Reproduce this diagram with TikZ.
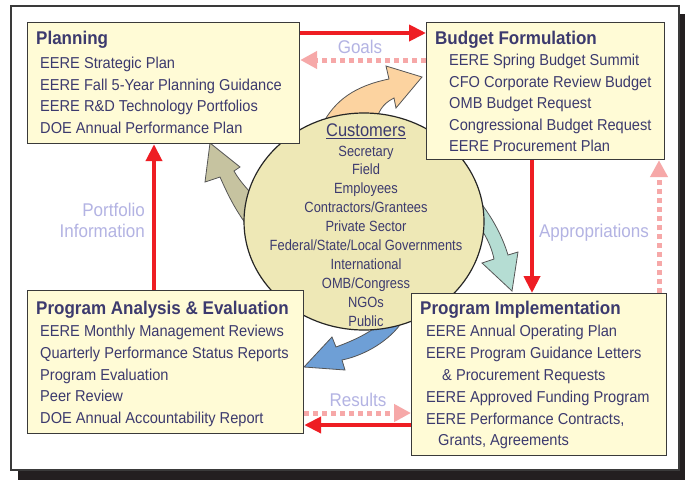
\documentclass[tikz,border=0pt]{standalone}
\usepackage{fontspec}
\setmainfont{Liberation Sans}
\newfontfamily\itmfamily[FakeStretch=0.925]{Liberation Sans}
\newfontfamily\cstfamily[FakeStretch=0.87]{Liberation Sans}
\newfontfamily\ctfamily[FakeStretch=0.9]{Liberation Sans}
\usetikzlibrary{arrows.meta,shapes.geometric}
\definecolor{txt}{HTML}{3C3A6E}
\definecolor{boxfill}{HTML}{FFFBD6}
\definecolor{boxline}{HTML}{3A3A3A}
\definecolor{circfill}{HTML}{EEE8B6}
\definecolor{lav}{HTML}{B3B3E3}
\definecolor{redc}{HTML}{EE1D23}
\definecolor{pinkc}{HTML}{F6A8A8}
\definecolor{peach}{HTML}{FCD3A0}
\definecolor{olivec}{HTML}{C6C3A0}
\definecolor{tealc}{HTML}{B5DDD3}
\definecolor{bluec}{HTML}{6E9FD6}
\definecolor{fatline}{HTML}{555555}
\definecolor{shadowc}{HTML}{231F20}
\begin{document}
\begin{tikzpicture}[x=1pt,y=-1pt,
  box/.style={draw=boxline, fill=boxfill, line width=1.2pt, inner sep=0pt, anchor=north west},
  ttl/.style={text=txt, font=\itmfamily\fontsize{18.4}{20}\selectfont\bfseries, inner sep=0pt, anchor=base west},
  itm/.style={text=txt, font=\itmfamily\fontsize{15.8}{18}\selectfont, inner sep=0pt, anchor=base west},
  cst/.style={text=txt, font=\cstfamily\fontsize{14.8}{15}\selectfont, inner sep=0pt, anchor=base},
  lbl/.style={text=lav, font=\itmfamily\fontsize{18.4}{21}\selectfont, inner sep=0pt},
  redarr/.style={draw=redc, line width=4pt, -{Triangle[length=17pt,width=16pt]}},
  pinkarr/.style={draw=pinkc, line width=5pt, dash pattern=on 5pt off 4pt, -{Triangle[length=17pt,width=17pt]}},
  fat/.style={draw=fatline, line width=0.8pt}]
\useasboundingbox (0,0) rectangle (685,480);
% frame with shadow
\fill[shadowc] (18,14) rectangle (685,480);
\filldraw[draw=boxline, line width=1.5pt, fill=white] (11,6) rectangle (679,470);

% fat curved arrows (behind the circle)
\filldraw[fat, fill=peach] (322,125) .. controls (335,100) and (355,86) .. (389,79) -- (386,66) -- (422,77) -- (396,108) -- (394,98) .. controls (382,104) and (378,112) .. (375,125) -- cycle;
\filldraw[fat, fill=olivec] (210,143) -- (205,182) -- (220,177) .. controls (228,195) and (236,212) .. (252,232) -- (262,205) .. controls (250,192) and (240,182) .. (234,171) -- (240,167) -- cycle;
\filldraw[fat, fill=tealc] (470,190) .. controls (490,212) and (502,235) .. (508,255) -- (518,252) -- (512,291) -- (482,263) -- (494,259) .. controls (490,240) and (480,225) .. (462,205) -- cycle;
\filldraw[fat, fill=bluec] (304,367) -- (332,337) -- (336,347) .. controls (355,340) and (372,332) .. (384,320) -- (402,322) .. controls (390,340) and (366,355) .. (342,360) -- (345,370) -- cycle;

% customers ellipse
\node[ellipse, draw=black!85, line width=1.2pt, fill=circfill, minimum width=240pt, minimum height=217pt, inner sep=0pt] (cust) at (364,221.5) {};
\node[text=txt, font=\ctfamily\fontsize{18.3}{18}\selectfont, anchor=base, inner sep=0pt] (ctitle) at (366,136.5) {\underline{Customers}};
\foreach \t [count=\i] in {Secretary, Field, Employees, Contractors/Grantees, Private Sector, Federal/State/Local Governments, International, OMB/Congress, NGOs, Public}
  {\node[cst] (c\i) at (366,{156+18.9*(\i-1)}) {\t};}

% boxes
\node[box, minimum width=272pt, minimum height=121pt] (plan) at (27,22) {};
\node[box, minimum width=238pt, minimum height=137pt] (bud) at (426,22) {};
\node[box, minimum width=276pt, minimum height=143pt] (pae) at (27,290) {};
\node[box, minimum width=255pt, minimum height=162pt] (pi) at (411,293) {};

% Planning text
\node[ttl] (plant) at (36,44.5) {Planning};
\node[itm] (plan1) at (40,68.5) {EERE Strategic Plan};
\node[itm] (plan2) at (40,90) {EERE Fall 5-Year Planning Guidance};
\node[itm] (plan3) at (40,111.5) {EERE R\&D Technology Portfolios};
\node[itm] (plan4) at (40,133.5) {DOE Annual Performance Plan};

% Budget text
\node[ttl] (budt) at (435,44.5) {Budget Formulation};
\node[itm] (bud1) at (449,65) {EERE Spring Budget Summit};
\node[itm] (bud2) at (449,87) {CFO Corporate Review Budget};
\node[itm] (bud3) at (449,108.5) {OMB Budget Request};
\node[itm] (bud4) at (449,130) {Congressional Budget Request};
\node[itm] (bud5) at (449,151.5) {EERE Procurement Plan};

% PA&E text
\node[ttl] (paet) at (36,314.5) {Program Analysis \& Evaluation};
\node[itm] (pae1) at (40,336.5) {EERE Monthly Management Reviews};
\node[itm] (pae2) at (40,358.5) {Quarterly Performance Status Reports};
\node[itm] (pae3) at (40,380) {Program Evaluation};
\node[itm] (pae4) at (40,401.5) {Peer Review};
\node[itm] (pae5) at (40,423) {DOE Annual Accountability Report};

% PI text
\node[ttl] (pit) at (420,314.5) {Program Implementation};
\node[itm] (pi1) at (426,336.5) {EERE Annual Operating Plan};
\node[itm] (pi2) at (426,358.5) {EERE Program Guidance Letters};
\node[itm] (pi3) at (442,380.5) {\& Procurement Requests};
\node[itm] (pi4) at (426,402.5) {EERE Approved Funding Program};
\node[itm] (pi5) at (426,424) {EERE Performance Contracts,};
\node[itm] (pi6) at (438,445.5) {Grants, Agreements};

% connectors
\coordinate (yg1) at (0,33);
\coordinate (yg2) at (0,60);
\coordinate (xa1) at (532,0);
\coordinate (xa2) at (659,0);
\coordinate (yr1) at (0,425);
\coordinate (yr2) at (0,413);
\coordinate (xp) at (154,0);
\draw[redarr] (plan.east |- yg1) -- (bud.west |- yg1);
\draw[pinkarr] (bud.west |- yg2) -- (plan.east |- yg2);
\draw[redarr] (bud.south -| xa1) -- (pi.north -| xa1);
\draw[pinkarr] (pi.north -| xa2) -- (bud.south -| xa2);
\draw[redarr] (pi.west |- yr1) -- (pae.east |- yr1);
\draw[pinkarr] (pae.east |- yr2) -- (pi.west |- yr2);
\draw[redarr] (pae.north -| xp) -- (plan.south -| xp);

% labels
\node[lbl] (goals) at (360,47) {Goals};
\node[lbl, anchor=east, align=right] (port) at (145,220) {Portfolio\\Information};
\node[lbl] (appr) at (594,233) {Appropriations};
\node[lbl] (res) at (358,400) {Results};
\end{tikzpicture}
\end{document}
